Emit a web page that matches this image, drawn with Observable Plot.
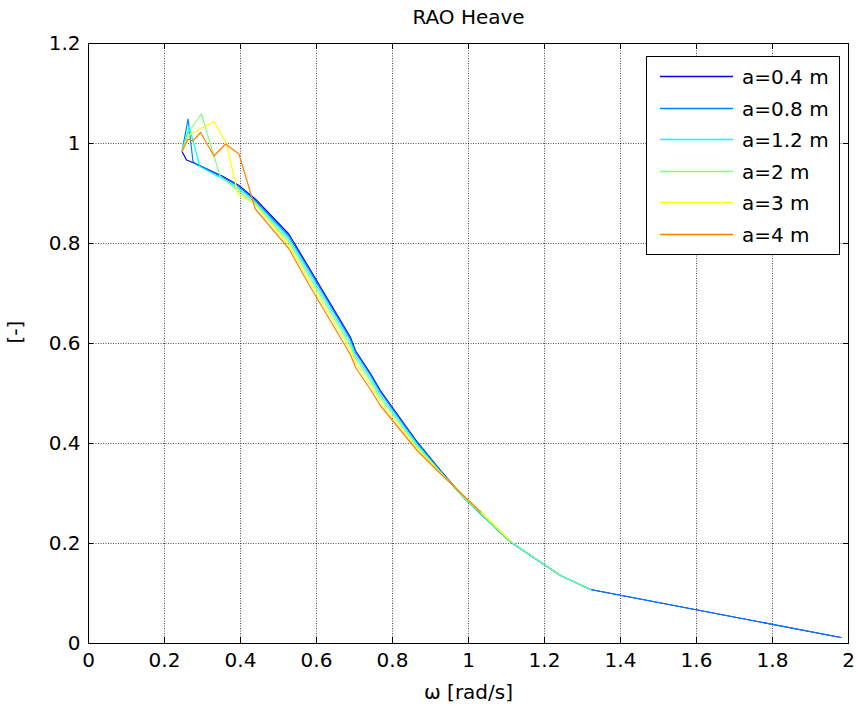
<!DOCTYPE html>
<html>
<head>
<meta charset="utf-8">
<script src="https://cdn.jsdelivr.net/npm/d3@7"></script>
<script src="https://cdn.jsdelivr.net/npm/@observablehq/plot@0.6"></script>
<style>
  html, body { margin: 0; padding: 0; background: #fff; }
  #chart { width: 858px; height: 713px; position: relative; }
</style>
</head>
<body>
<div id="chart"></div>
<script>
// ---- Data ----
const seriesLabels = ["a=0.4 m", "a=0.8 m", "a=1.2 m", "a=2 m", "a=3 m", "a=4 m"];
const seriesColors = ["#0000ff", "#0080ff", "#00ffff", "#80ff80", "#ffff00", "#ff8000"];

const omega04 = [0.246, 0.258, 0.284, 0.354, 0.394, 0.439, 0.527, 0.58, 0.689, 0.703, 0.742, 0.768, 0.799, 0.865, 0.926, 0.992, 1.032, 1.111, 1.242, 1.321, 1.98];
const rao04   = [0.984, 0.967, 0.959, 0.934, 0.917, 0.889, 0.819, 0.752, 0.613, 0.585, 0.540, 0.506, 0.473, 0.403, 0.346, 0.289, 0.260, 0.203, 0.136, 0.108, 0.012];

const omega08 = [0.246, 0.262, 0.275, 0.284, 0.354, 0.394, 0.439, 0.527, 0.58, 0.689, 0.703, 0.742, 0.768, 0.799, 0.865, 0.926, 0.992, 1.032, 1.111, 1.242, 1.321, 1.98];
const rao08   = [0.984, 1.049, 0.964, 0.958, 0.932, 0.915, 0.886, 0.815, 0.748, 0.609, 0.582, 0.537, 0.503, 0.470, 0.401, 0.345, 0.288, 0.259, 0.203, 0.136, 0.108, 0.012];

const omega12 = [0.246, 0.265, 0.293, 0.354, 0.394, 0.439, 0.527, 0.58, 0.689, 0.703, 0.742, 0.768, 0.799, 0.865, 0.926, 0.992, 1.032, 1.111, 1.242, 1.321];
const rao12   = [0.984, 1.034, 0.954, 0.929, 0.911, 0.882, 0.810, 0.742, 0.603, 0.576, 0.531, 0.497, 0.465, 0.398, 0.343, 0.288, 0.260, 0.203, 0.136, 0.108];

const omega2  = [0.246, 0.265, 0.297, 0.346, 0.394, 0.439, 0.527, 0.58, 0.689, 0.703, 0.742, 0.768, 0.799, 0.865, 0.926, 0.992, 1.032, 1.111, 1.242, 1.321];
const rao2    = [0.984, 1.025, 1.059, 0.935, 0.905, 0.878, 0.804, 0.735, 0.596, 0.570, 0.525, 0.491, 0.460, 0.394, 0.342, 0.289, 0.261, 0.204, 0.136, 0.108];

const omega3  = [0.246, 0.265, 0.330, 0.363, 0.393, 0.439, 0.527, 0.58, 0.689, 0.703, 0.742, 0.768, 0.799, 0.865, 0.926, 0.992, 1.032, 1.111];
const rao3    = [0.984, 1.017, 1.044, 1.000, 0.899, 0.879, 0.797, 0.727, 0.588, 0.562, 0.517, 0.484, 0.454, 0.391, 0.342, 0.292, 0.264, 0.205];

const omega4  = [0.246, 0.262, 0.274, 0.295, 0.330, 0.361, 0.396, 0.439, 0.527, 0.58, 0.689, 0.703, 0.742, 0.768, 0.799, 0.865, 0.926, 0.992, 1.032];
const rao4    = [0.984, 1.009, 1.005, 1.022, 0.975, 0.999, 0.979, 0.869, 0.790, 0.718, 0.578, 0.552, 0.508, 0.476, 0.447, 0.386, 0.340, 0.292, 0.263];

const xTicks = [0, 0.2, 0.4, 0.6, 0.8, 1, 1.2, 1.4, 1.6, 1.8, 2];
const yTicks = [0, 0.2, 0.4, 0.6, 0.8, 1, 1.2];

const titleText = "RAO Heave";
const xLabel = "\u03c9 [rad/s]";
const yLabel = "[-]";

// ---- Build tables ----
const omegas = [omega04, omega08, omega12, omega2, omega3, omega4];
const raos = [rao04, rao08, rao12, rao2, rao3, rao4];
const tables = omegas.map((om, i) => om.map((w, j) => ({w, v: raos[i][j], s: seriesLabels[i]})));

const FONT = "DejaVu Sans";
const lineMarks = tables.map((t, i) => Plot.line(t, {x: "w", y: "v", stroke: seriesColors[i], strokeWidth: 1.2}));

const chart = Plot.plot({
  width: 858,
  height: 713,
  marginLeft: 88,
  marginRight: 10,
  marginTop: 43,
  marginBottom: 70,
  style: {fontFamily: FONT, fontSize: "20px", background: "white", color: "black"},
  x: {domain: [0, 2]},
  y: {domain: [0, 1.2]},
  marks: [
    Plot.gridX(xTicks, {stroke: "#000", strokeOpacity: 0.7, strokeDasharray: "1,1.5"}),
    Plot.gridY(yTicks, {stroke: "#000", strokeOpacity: 0.7, strokeDasharray: "1,1.5"}),
    // inward ticks (MATLAB style)
    Plot.ruleX(xTicks, {x: d => d, y1: 0, y2: 0.012, stroke: "#000"}),
    Plot.ruleX(xTicks, {x: d => d, y1: 1.188, y2: 1.2, stroke: "#000"}),
    Plot.ruleY(yTicks, {y: d => d, x1: 0, x2: 0.0135, stroke: "#000"}),
    Plot.ruleY(yTicks, {y: d => d, x1: 1.9865, x2: 2, stroke: "#000"}),
    ...lineMarks,
    Plot.frame({stroke: "#000"}),
    Plot.axisX(xTicks, {tickSize: 0, tickPadding: 9, fontSize: 20, tickFormat: d => String(d), label: null}),
    Plot.axisY(yTicks, {tickSize: 0, tickPadding: 8, fontSize: 20, tickFormat: d => String(d), label: null}),
    Plot.text([titleText], {frameAnchor: "top", lineAnchor: "middle", dy: -26, fontSize: 20, text: d => d}),
    Plot.text([xLabel], {frameAnchor: "bottom", lineAnchor: "middle", dy: 49, fontSize: 20, text: d => d}),
    Plot.text([yLabel], {frameAnchor: "left", lineAnchor: "middle", dx: -73, rotate: -90, fontSize: 20, text: d => d})
  ]
});

document.getElementById("chart").appendChild(chart);

// ---- Legend (inside the SVG, top right) ----
const svg = d3.select(chart);
const lg = svg.append("g").attr("font-family", FONT).attr("font-size", 20).attr("text-anchor", "start");
lg.append("rect").attr("x", 646.5).attr("y", 56.5).attr("width", 193).attr("height", 198)
  .attr("fill", "#fff").attr("stroke", "#000").attr("stroke-width", 1);
seriesLabels.forEach((lab, i) => {
  const y = Math.round(76 + i * 31.5) + 0.5;
  lg.append("line").attr("x1", 660).attr("x2", 733).attr("y1", y).attr("y2", y)
    .attr("stroke", seriesColors[i]).attr("stroke-width", 1.3).attr("stroke-opacity", 1);
  lg.append("text").attr("x", 742).attr("y", y).attr("dy", "0.35em").attr("text-anchor", "start")
    .attr("fill", "#000").text(lab);
});
</script>
</body>
</html>
